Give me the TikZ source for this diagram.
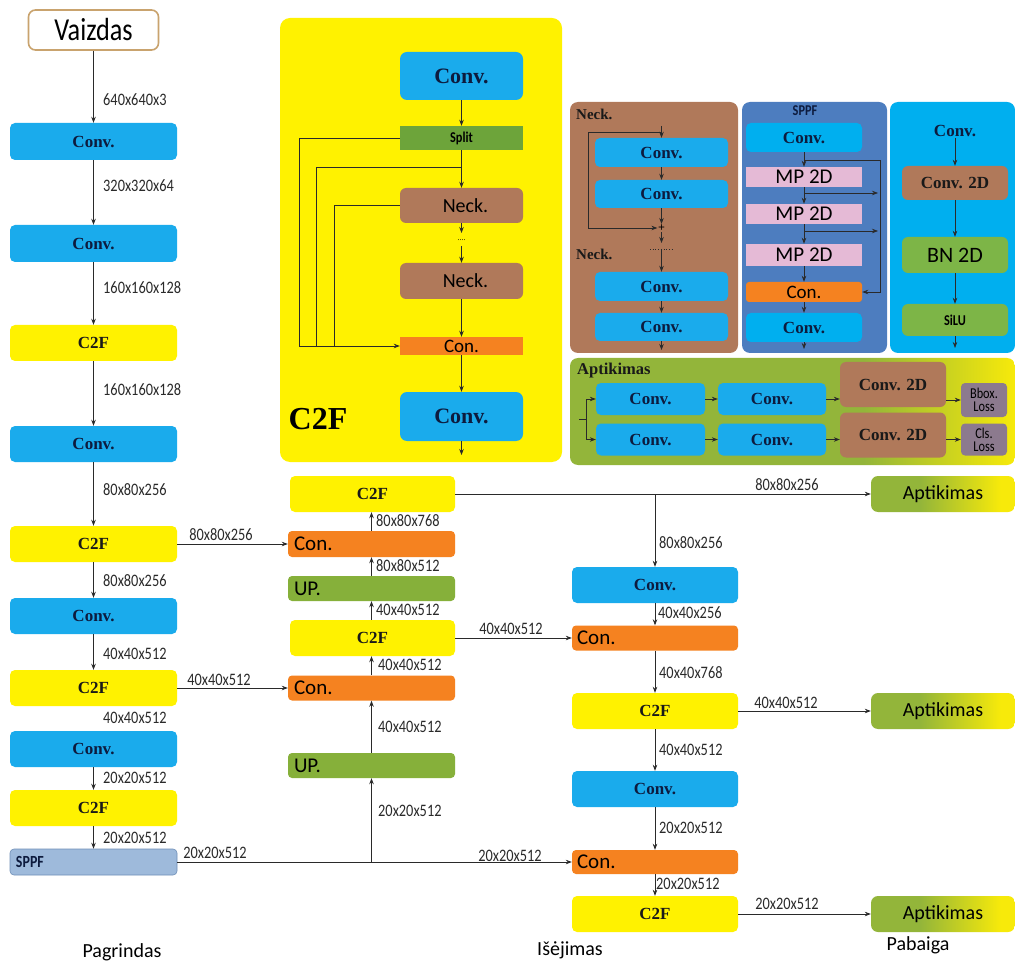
\documentclass[tikz,border=0pt]{standalone}
\usepackage{fontspec}
\setmainfont{Liberation Serif}
\newfontfamily\carl{Carlito}
\newfontfamily\cond[FakeStretch=0.82]{Carlito}
\usetikzlibrary{arrows.meta}
\newcommand\fsz[1]{\fontsize{#1}{#1}\selectfont}
\definecolor{cb}{HTML}{1AABEC}
\definecolor{cy}{HTML}{FFF200}
\definecolor{co}{HTML}{F58220}
\definecolor{cg}{HTML}{86B03A}
\definecolor{cbr}{HTML}{B0795A}
\definecolor{csp}{HTML}{4D7DBF}
\definecolor{clb}{HTML}{00AFEF}
\definecolor{cpk}{HTML}{E5BAD6}
\definecolor{csplit}{HTML}{6DA43A}
\definecolor{cbn}{HTML}{7DB547}
\definecolor{closs}{HTML}{8C7A8E}
\definecolor{csppfb}{HTML}{9EBADB}
\definecolor{csppfd}{HTML}{6F8FB8}
\definecolor{navy}{HTML}{0D1B3E}
\definecolor{aptg}{HTML}{93B53A}
\definecolor{apty}{HTML}{F7EA0A}
\definecolor{lnc}{HTML}{2A2A2A}
\definecolor{vzb}{HTML}{C9A36E}
\pgfdeclarehorizontalshading{aptsmall}{100bp}{color(0bp)=(aptg); color(42bp)=(aptg); color(70bp)=(apty); color(100bp)=(apty)}
\pgfdeclarehorizontalshading{aptbig}{100bp}{color(0bp)=(aptg); color(58bp)=(aptg); color(75bp)=(apty); color(100bp)=(apty)}
\tikzset{
  arr/.style={-{Stealth[length=6pt,width=4.5pt]}, line width=0.7pt, draw=lnc},
  ln/.style={line width=0.7pt, draw=lnc},
  conv/.style={fill=cb, rounded corners=5pt, font=\bfseries\fsz{17}, text=navy, inner sep=0pt},
  c2f/.style={fill=cy, rounded corners=5pt, font=\bfseries\fsz{17}, text=black!90, inner sep=0pt},
  conc/.style={fill=co, rounded corners=4pt, font=\carl\fsz{21}, text=black, inner sep=0pt},
  upb/.style={fill=cg, rounded corners=4pt, font=\carl\fsz{21}, text=black, inner sep=0pt},
  leftt/.style={text width=155pt, align=left},
  wid/.style={minimum width=167pt},
  apt/.style={shading=aptsmall, rounded corners=7pt, font=\carl\fsz{20}, text=black, inner sep=0pt, minimum width=144pt, minimum height=36pt},
  dim/.style={font=\cond\fsz{17.5}, text=lnc, anchor=west, inner sep=1pt},
  brown/.style={fill=cbr, rounded corners=6pt, inner sep=0pt},
}
\begin{document}
\begin{tikzpicture}[x=1pt,y=-1pt]
\useasboundingbox (0,0) rectangle (1015,968);
\fill[white] (0,0) rectangle (1015,968);

% ---------------- backbone ----------------
\node[draw=vzb, line width=1.6pt, fill=white, rounded corners=7pt, minimum width=130pt, minimum height=40pt, inner sep=0pt, font=\cond\fsz{32}] (vz) at (93.5,30) {Vaizdas};
\node[conv, wid, minimum height=37pt] (b1) at (93.5,141.5) {Conv.};
\node[conv, wid, minimum height=37pt] (b2) at (93.5,243.5) {Conv.};
\node[c2f, wid, minimum height=36pt] (bf1) at (93.5,343) {C2F};
\node[conv, wid, minimum height=36pt] (b3) at (93.5,444) {Conv.};
\node[c2f, wid, minimum height=36pt] (bf2) at (93.5,544) {C2F};
\node[conv, wid, minimum height=36pt] (b4) at (93.5,616) {Conv.};
\node[c2f, wid, minimum height=36pt] (bf3) at (93.5,688) {C2F};
\node[conv, wid, minimum height=36pt] (b5) at (93.5,749) {Conv.};
\node[c2f, wid, minimum height=36pt] (bf4) at (93.5,808) {C2F};
\node[fill=csppfb, draw=csppfd, line width=0.6pt, rounded corners=4pt, wid, minimum height=26pt, inner sep=0pt, text width=155pt, align=left, font=\cond\bfseries\fsz{17}, text=navy] (sppf) at (93.5,862) {SPPF};

\draw[arr] (vz) -- (b1);
\draw[arr] (b1) -- (b2);
\draw[arr] (b2) -- (bf1);
\draw[arr] (bf1) -- (b3);
\draw[arr] (b3) -- (bf2);
\draw[arr] (bf2) -- (b4);
\draw[arr] (b4) -- (bf3);
\draw[arr] (b5) -- (bf4);
\draw[arr] (bf4) -- (sppf);

\node[dim] (l1) at (102,100) {640x640x3};
\node[dim] (l2) at (102,186) {320x320x64};
\node[dim] (l3) at (102,288) {160x160x128};
\node[dim] (l4) at (102,390) {160x160x128};
\node[dim] (l5) at (102,490) {80x80x256};
\node[dim] (l6) at (102,581) {80x80x256};
\node[dim] (l7) at (102,654) {40x40x512};
\node[dim] (l8) at (102,718) {40x40x512};
\node[dim] (l9) at (102,778) {20x20x512};
\node[dim] (l10) at (102,838) {20x20x512};

% ---------------- middle column ----------------
\node[c2f, minimum width=165pt, minimum height=36pt] (mf1) at (372.5,494) {C2F};
\node[conc, wid, leftt, minimum height=26pt] (mcon1) at (371.5,544) {Con.};
\node[upb, wid, leftt, minimum height=25pt] (mup1) at (371.5,588.5) {UP.};
\node[c2f, minimum width=165pt, minimum height=36pt] (mf2) at (372.5,638) {C2F};
\node[conc, wid, leftt, minimum height=25pt] (mcon2) at (371.5,688) {Con.};
\node[upb, wid, leftt, minimum height=25pt] (mup2) at (371.5,765.5) {UP.};

\draw[arr] (mcon1) -- (mcon1.north |- mf1.south);
\draw[arr] (mup1) -- (mcon1);
\draw[arr] (mup1.north |- mf2.north) -- (mup1);
\draw[arr] (mcon2.north) -- (mcon2.north |- mf2.south);
\draw[arr] (mup2) -- (mcon2);

\node[dim] (m1) at (375,521) {80x80x768};
\node[dim] (m2) at (375,566) {80x80x512};
\node[dim] (m3) at (375,610) {40x40x512};
\node[dim] (m4) at (377,665) {40x40x512};
\node[dim] (m5) at (377,727) {40x40x512};
\node[dim] (m6) at (377,811) {20x20x512};

% ---------------- right column ----------------
\node[conv, minimum width=166pt, minimum height=36pt] (rc1) at (655,585) {Conv.};
\node[conc, minimum width=166pt, text width=156pt, align=left, minimum height=25pt] (rcon1) at (655,638) {Con.};
\node[c2f, minimum width=166pt, minimum height=36pt] (rf1) at (655,711) {C2F};
\node[conv, minimum width=166pt, minimum height=36pt] (rc2) at (655,789) {Conv.};
\node[conc, minimum width=166pt, text width=156pt, align=left, minimum height=24pt] (rcon2) at (655,862) {Con.};
\node[c2f, minimum width=166pt, minimum height=36pt] (rf2) at (655,914) {C2F};

\draw[arr] (rc1) -- (rcon1);
\draw[arr] (rcon1) -- (rf1);
\draw[arr] (rf1) -- (rc2);
\draw[arr] (rc2) -- (rcon2);
\draw[arr] (rcon2) -- (rf2);

\node[dim] (r1) at (658,543) {80x80x256};
\node[dim] (r2) at (657,613) {40x40x256};
\node[dim] (r3) at (658,673) {40x40x768};
\node[dim] (r4) at (658,750) {40x40x512};
\node[dim] (r5) at (658,828) {20x20x512};
\node[dim] (r6) at (655,884) {20x20x512};

% ---------------- outputs ----------------
\node[apt] (a1) at (943,494) {Aptikimas};
\node[apt] (a2) at (943,711) {Aptikimas};
\node[apt] (a3) at (943,914) {Aptikimas};

% ---------------- cross connections ----------------
\draw[arr] (bf2) -- (mcon1);
\node[dim, anchor=center] (h1) at (221,535) {80x80x256};
\draw[arr] (bf3) -- (mcon2);
\node[dim, anchor=center] (h2) at (219,680) {40x40x512};
\draw[arr] (sppf) -- (rcon2);
\node[dim, anchor=center] (h3) at (215,853) {20x20x512};
\node[dim, anchor=center] (h4) at (510,856) {20x20x512};
\coordinate (br1) at (371.5,862);
\draw[arr] (br1) -- (mup2);

\draw[arr] (mf1) -- (a1);
\coordinate (br2) at (655,494);
\draw[arr] (br2) -- (rc1);
\node[dim, anchor=center] (h5) at (787,485) {80x80x256};
\draw[arr] (mf2) -- (rcon1);
\node[dim, anchor=center] (h6) at (511,629) {40x40x512};
\draw[arr] (rf1) -- (a2);
\node[dim, anchor=center] (h7) at (786,703) {40x40x512};
\draw[arr] (rf2) -- (a3);
\node[dim, anchor=center] (h8) at (787,904) {20x20x512};

% ---------------- section titles ----------------
\node[font=\carl\fsz{20}, inner sep=0pt] (t1) at (122,952) {Pagrindas};
\node[font=\carl\fsz{20}, inner sep=0pt] (t2) at (570,950) {Išėjimas};
\node[font=\carl\fsz{20}, inner sep=0pt] (t3) at (918,945) {Pabaiga};

% ---------------- C2F detail ----------------
\fill[cy, rounded corners=10pt] (280,18) rectangle (562,462);
\node[conv, minimum width=123pt, minimum height=48pt, font=\bfseries\fsz{22}, rounded corners=7pt] (d1) at (461.5,76) {Conv.};
\node[fill=csplit, minimum width=123pt, minimum height=24pt, inner sep=0pt, font=\cond\bfseries\fsz{15}] (dsp) at (461.5,138) {Split};
\node[brown, minimum width=123pt, minimum height=35pt, font=\carl\fsz{20}] (dn1) at (461.5,205.5) {\hspace*{8pt}Neck.};
\node[brown, minimum width=123pt, minimum height=36pt, font=\carl\fsz{20}] (dn2) at (461.5,281) {\hspace*{8pt}Neck.};
\node[fill=co, minimum width=123pt, minimum height=18pt, inner sep=0pt, font=\carl\fsz{19}] (dcon) at (461.5,346) {Con.};
\node[conv, minimum width=123pt, minimum height=49pt, font=\bfseries\fsz{22}, rounded corners=7pt] (d2) at (461.5,416.5) {Conv.};
\node[font=\bfseries\fsz{32}, inner sep=0pt] (dt) at (318,419) {C2F};

\draw[arr] (d1) -- (dsp);
\draw[arr] (dsp) -- (dn1);
\coordinate (dd1) at (461.5,233);
\coordinate (dd2) at (461.5,246);
\draw[arr] (dn1) -- (dd1);
\node[font=\fsz{8}, inner sep=0pt] (ddots) at (461.5,240) {....};
\draw[arr] (dd2) -- (dn2);
\draw[arr] (dn2) -- (dcon);
\draw[arr] (dcon) -- (d2);
\coordinate (dend) at (461.5,455);
\draw[arr] (d2) -- (dend);
\coordinate (dk1) at (299,346);
\coordinate (dk2) at (316,346);
\coordinate (dk3) at (334,346);
\coordinate (ds2) at (461.5,167);
\draw[arr] (dsp.west) -- (dsp.west -| dk1) -- (dk1) -- (dcon.west);
\draw[ln] (ds2) -- (ds2 -| dk2) -- (dk2);
\draw[ln] (dn1.west) -- (dn1.west -| dk3) -- (dk3);

% ---------------- Neck detail ----------------
\fill[cbr, rounded corners=8pt] (570,102) rectangle (738,353);
\node[font=\bfseries\fsz{15}, anchor=west, inner sep=0pt, text=black!90] (nt1) at (576,114) {Neck.};
\node[conv, minimum width=133pt, minimum height=29pt] (n1) at (661.5,152.5) {Conv.};
\node[conv, minimum width=133pt, minimum height=28pt] (n2) at (661.5,194) {Conv.};
\node[conv, minimum width=133pt, minimum height=29pt] (n3) at (661.5,286.5) {Conv.};
\node[conv, minimum width=133pt, minimum height=28pt] (n4) at (661.5,327) {Conv.};
\node[font=\bfseries\fsz{12}, inner sep=0.5pt] (nplus) at (661.5,228) {+};
\node[font=\bfseries\fsz{15}, anchor=west, inner sep=0pt, text=black!90] (nt2) at (576,254) {Neck.};
\coordinate (ntop) at (661.5,126);
\coordinate (nsk) at (661.5,132);
\draw[arr] (ntop) -- (n1);
\draw[arr] (n1) -- (n2);
\draw[arr] (n2) -- (nplus);
\coordinate (np2) at (661.5,243);
\draw[arr] (nplus) -- (np2);
\coordinate (nd1) at (650,249);
\coordinate (nd2) at (673,249);
\draw[ln, dotted] (nd1) -- (nd2);
\coordinate (nd3) at (661.5,249);
\draw[arr] (nd3) -- (n3);
\draw[arr] (n3) -- (n4);
\coordinate (nend) at (661.5,350);
\draw[arr] (n4) -- (nend);
\draw[arr] (nsk) -- (588,132) -- (588,228) -- (nplus.west);

% ---------------- SPPF detail ----------------
\fill[csp, rounded corners=8pt] (742,102) rectangle (887,353);
\node[font=\cond\bfseries\fsz{15}, inner sep=0pt, text=navy] (spt) at (805,111) {SPPF};
\node[fill=clb, rounded corners=5pt, minimum width=116pt, minimum height=29pt, inner sep=0pt, font=\bfseries\fsz{17}, text=navy] (s1) at (804,137.5) {Conv.};
\node[fill=cpk, minimum width=116pt, minimum height=20pt, inner sep=0pt, font=\carl\fsz{21}] (mp1) at (804,177) {MP 2D};
\node[fill=cpk, minimum width=116pt, minimum height=20pt, inner sep=0pt, font=\carl\fsz{21}] (mp2) at (804,214) {MP 2D};
\node[fill=cpk, minimum width=116pt, minimum height=22pt, inner sep=0pt, font=\carl\fsz{21}] (mp3) at (804,255) {MP 2D};
\node[fill=co, rounded corners=3pt, minimum width=116pt, minimum height=20pt, inner sep=0pt, font=\carl\fsz{19}] (scon) at (804,292) {Con.};
\node[fill=clb, rounded corners=5pt, minimum width=116pt, minimum height=29pt, inner sep=0pt, font=\bfseries\fsz{17}, text=navy] (s2) at (804,327.5) {Conv.};
\draw[arr] (s1) -- (mp1);
\draw[arr] (mp1) -- (mp2);
\draw[arr] (mp2) -- (mp3);
\draw[arr] (mp3) -- (scon);
\draw[arr] (scon) -- (s2);
\coordinate (send) at (804,349);
\draw[arr] (s2) -- (send);
\coordinate (sb0) at (804,160);
\draw[arr] (sb0) -- (880,160) |- (scon.east);
\coordinate (sb1) at (804,193);
\coordinate (sb1e) at (878,193);
\draw[arr] (sb1) -- (sb1e);
\coordinate (sb2) at (804,231);
\coordinate (sb2e) at (878,231);
\draw[arr] (sb2) -- (sb2e);

% ---------------- Conv detail ----------------
\fill[clb, rounded corners=8pt] (890,102) rectangle (1015,353);
\node[font=\bfseries\fsz{17}, text=navy, inner sep=1pt] (cvt) at (955,131) {Conv.};
\node[brown, minimum width=106pt, minimum height=34pt, font=\bfseries\fsz{17}, text=black!90] (cv2) at (955,183) {Conv. 2D};
\node[fill=cbn, rounded corners=6pt, minimum width=106pt, minimum height=36pt, inner sep=0pt, font=\carl\fsz{22}] (bn) at (955,255) {BN 2D};
\node[fill=cbn, rounded corners=6pt, minimum width=106pt, minimum height=32pt, inner sep=0pt, font=\cond\bfseries\fsz{15}] (silu) at (955,320) {SiLU};
\draw[arr] (cvt) -- (cv2);
\draw[arr] (cv2) -- (bn);
\draw[arr] (bn) -- (silu);
\coordinate (cend) at (955,348);
\draw[arr] (silu) -- (cend);

% ---------------- Aptikimas detail ----------------
\shade[shading=aptbig, rounded corners=8pt] (570,358) rectangle (1015,465);
\node[font=\bfseries\fsz{16.5}, anchor=west, inner sep=0pt, text=black!90] (apt0) at (577,371) {Aptikimas};
\node[conv, minimum width=109pt, minimum height=32pt] (ac1) at (650.5,399) {Conv.};
\node[conv, minimum width=108pt, minimum height=32pt] (ac2) at (772,399) {Conv.};
\node[conv, minimum width=109pt, minimum height=32pt] (ac3) at (650.5,439.5) {Conv.};
\node[conv, minimum width=108pt, minimum height=32pt] (ac4) at (772,439.5) {Conv.};
\node[brown, minimum width=106pt, minimum height=45pt, font=\bfseries\fsz{17}, text=black!90] (ad1) at (893,384.5) {Conv. 2D};
\node[brown, minimum width=106pt, minimum height=45pt, font=\bfseries\fsz{17}, text=black!90] (ad2) at (893,435) {Conv. 2D};
\node[fill=closs, rounded corners=4pt, minimum width=46pt, minimum height=34pt, inner sep=0pt, align=center, font=\cond\fontsize{15}{13}\selectfont] (bl) at (984,400) {Bbox.\\Loss};
\node[fill=closs, rounded corners=4pt, minimum width=46pt, minimum height=32pt, inner sep=0pt, align=center, font=\cond\fontsize{15}{13}\selectfont] (cl) at (984,439.5) {Cls.\\Loss};
\coordinate (as0) at (579,419);
\coordinate (as1) at (586,399);
\coordinate (as2) at (586,439.5);
\draw[ln] (as1) -- (as2);
\draw[ln] (as0) -- (586,419);
\draw[arr] (as1) -- (ac1);
\draw[arr] (as2) -- (ac3);
\draw[arr] (ac1) -- (ac2);
\draw[arr] (ac3) -- (ac4);
\draw[arr] (ac2) -- (ac2.east -| ad1.west);
\draw[arr] (ac4) -- (ac4.east -| ad2.west);
\draw[arr] (bl.west -| ad1.east) -- (bl);
\draw[arr] (cl.west -| ad2.east) -- (cl);
\end{tikzpicture}
\end{document}
